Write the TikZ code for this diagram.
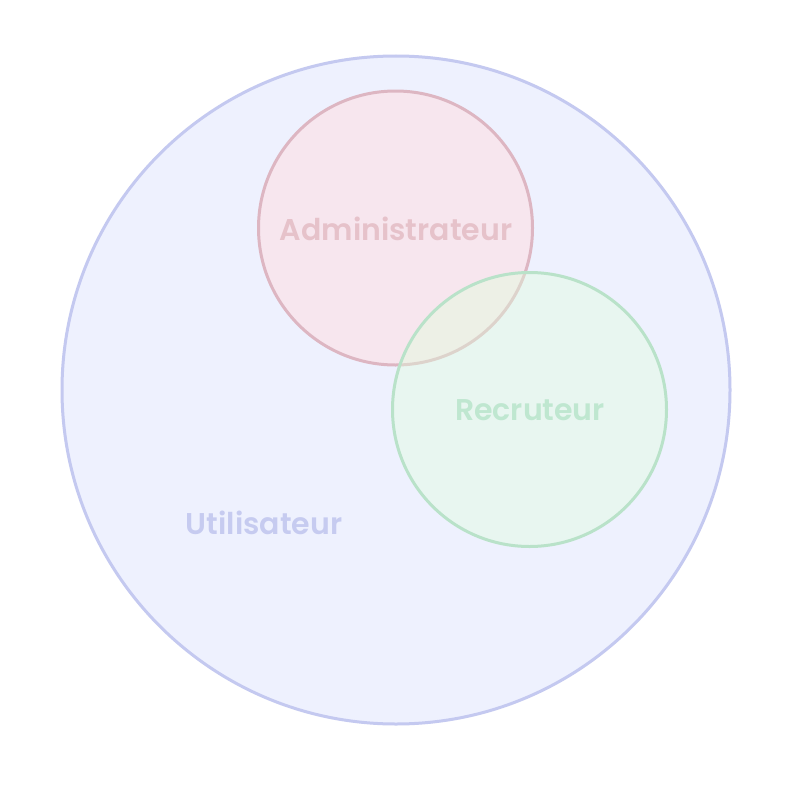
\documentclass[tikz,border=0pt]{standalone}
\usepackage{fontspec}
\setmainfont{Poppins}[UprightFont=* SemiBold]
\definecolor{ublue}{HTML}{EEF1FE}
\definecolor{ubluel}{HTML}{C4C9F0}
\definecolor{ubluet}{HTML}{C6CBF0}
\definecolor{apink}{HTML}{F7E6EE}
\definecolor{apinkl}{HTML}{DDB6C2}
\definecolor{apinkt}{HTML}{E6C2CA}
\definecolor{rgreen}{HTML}{DFFFDB}
\definecolor{rgreenl}{HTML}{B9E2C9}
\definecolor{rgreent}{HTML}{BFE7D0}
\tikzset{
  settxt/.style={font=\fontsize{30}{36}\selectfont},
}
\begin{document}
\begin{tikzpicture}[x=1pt,y=-1pt]
\useasboundingbox (0,0) rectangle (784,792);
\fill[white] (0,0) rectangle (784,792);
\draw[ubluel, fill=ublue, line width=3pt] (396,390) circle (334);
\draw[apinkl, fill=apink, line width=3pt] (395.5,228) circle (137);
\fill[rgreen, fill opacity=0.4] (529.5,409.5) circle (137);
\draw[rgreenl, line width=3pt] (529.5,409.5) circle (137);
\node[settxt, text=apinkt] (admin) at (396,229) {Administrateur};
\node[settxt, text=rgreent] (rec) at (530,410) {Recruteur};
\node[settxt, text=ubluet] (user) at (264,523) {Utilisateur};
\end{tikzpicture}
\end{document}
